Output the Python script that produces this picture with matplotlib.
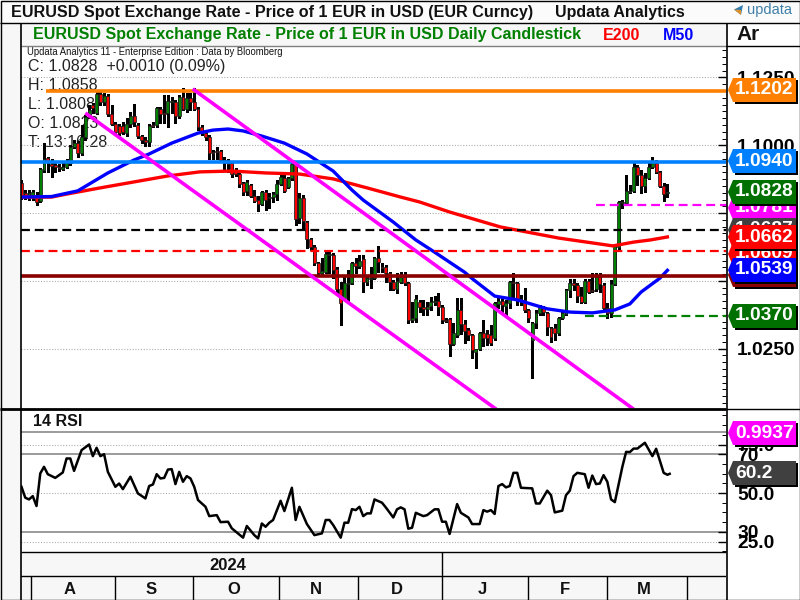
import matplotlib
matplotlib.use("Agg")
import matplotlib.pyplot as plt
from matplotlib.patches import Polygon, Rectangle
from matplotlib.ticker import MultipleLocator, FixedLocator, FixedFormatter

plt.rcParams['font.family'] = ['Liberation Sans', 'DejaVu Sans']

opens = [1.0861,1.0824,1.0809,1.0809,1.0813,1.0794,1.0909,1.0953,1.0931,1.0927,1.0920,1.0913,1.0920,1.0935,1.0994,1.1008,1.0972,1.1031,1.1104,1.1149,
1.1119,1.1189,1.1160,1.1182,1.1115,1.1079,1.1071,1.1071,1.1045,1.1079,1.1108,1.1075,1.1034,1.1020,1.1012,1.1075,1.1075,1.1134,1.1119,1.1119,
1.1160,1.1160,1.1108,1.1178,1.1134,1.1174,1.1160,1.1134,1.1067,1.1045,1.1031,1.0975,1.0979,1.0979,1.0946,1.0935,1.0935,1.0905,1.0894,1.0861,
1.0832,1.0854,1.0813,1.0798,1.0783,1.0828,1.0806,1.0809,1.0821,1.0857,1.0879,1.0846,1.0879,1.0931,1.0732,1.0806,1.0717,1.0654,1.0625,1.0566,
1.0529,1.0532,1.0595,1.0595,1.0544,1.0470,1.0437,1.0488,1.0492,1.0566,1.0555,1.0580,1.0496,1.0507,1.0510,1.0584,1.0551,1.0551,1.0529,1.0496,
1.0470,1.0496,1.0514,1.0492,1.0356,1.0363,1.0422,1.0404,1.0396,1.0407,1.0422,1.0426,1.0404,1.0356,1.0359,1.0267,1.0300,1.0393,1.0341,1.0319,
1.0300,1.0238,1.0249,1.0307,1.0304,1.0300,1.0289,1.0415,1.0426,1.0407,1.0418,1.0496,1.0492,1.0433,1.0430,1.0393,1.0282,1.0344,1.0382,1.0404,
1.0382,1.0326,1.0326,1.0307,1.0363,1.0378,1.0467,1.0492,1.0485,1.0444,1.0422,1.0499,1.0467,1.0470,1.0514,1.0485,1.0400,1.0382,1.0488,1.0625,
1.0787,1.0787,1.0828,1.0832,1.0920,1.0891,1.0850,1.0879,1.0920,1.0935,1.0902,1.0850,1.0823]
highs = [1.0872,1.0835,1.0835,1.0835,1.0828,1.0916,1.1008,1.0957,1.0950,1.0938,1.0931,1.0935,1.0950,1.1001,1.1020,1.1016,1.1075,1.1112,1.1149,1.1156,
1.1197,1.1197,1.1193,1.1189,1.1149,1.1086,1.1079,1.1086,1.1101,1.1123,1.1152,1.1082,1.1038,1.1031,1.1079,1.1086,1.1141,1.1141,1.1185,1.1185,
1.1178,1.1167,1.1185,1.1211,1.1193,1.1193,1.1211,1.1141,1.1075,1.1056,1.1038,1.0983,1.0994,1.0983,1.0957,1.0950,1.0938,1.0916,1.0902,1.0865,
1.0872,1.0857,1.0835,1.0813,1.0832,1.0835,1.0824,1.0828,1.0872,1.0898,1.0898,1.0883,1.0935,1.0938,1.0824,1.0817,1.0721,1.0658,1.0632,1.0569,
1.0584,1.0606,1.0606,1.0603,1.0551,1.0496,1.0522,1.0540,1.0569,1.0584,1.0595,1.0595,1.0522,1.0551,1.0588,1.0629,1.0566,1.0558,1.0532,1.0503,
1.0529,1.0532,1.0532,1.0496,1.0422,1.0448,1.0430,1.0430,1.0422,1.0441,1.0444,1.0456,1.0411,1.0363,1.0363,1.0345,1.0437,1.0437,1.0356,1.0326,
1.0304,1.0249,1.0311,1.0356,1.0319,1.0338,1.0422,1.0437,1.0437,1.0430,1.0499,1.0529,1.0496,1.0448,1.0474,1.0396,1.0349,1.0393,1.0411,1.0407,
1.0385,1.0330,1.0341,1.0367,1.0393,1.0470,1.0507,1.0507,1.0492,1.0478,1.0507,1.0507,1.0529,1.0529,1.0529,1.0492,1.0418,1.0503,1.0632,1.0794,
1.0798,1.0891,1.0854,1.0935,1.0927,1.0909,1.0898,1.0935,1.0957,1.0946,1.0905,1.0861,1.0858]
lows = [1.0802,1.0802,1.0798,1.0798,1.0780,1.0791,1.0902,1.0902,1.0883,1.0902,1.0905,1.0909,1.0916,1.0927,1.0990,1.0957,1.0964,1.1020,1.1101,1.1119,
1.1115,1.1149,1.1149,1.1108,1.1075,1.1042,1.1038,1.1042,1.1034,1.1067,1.1071,1.1027,1.1008,1.0997,1.0997,1.1067,1.1067,1.1082,1.1082,1.1067,
1.1119,1.1082,1.1101,1.1130,1.1123,1.1130,1.1130,1.1056,1.1038,1.1020,1.0950,1.0950,1.0950,1.0938,1.0905,1.0902,1.0883,1.0887,1.0846,1.0817,
1.0817,1.0809,1.0791,1.0758,1.0780,1.0761,1.0769,1.0791,1.0798,1.0854,1.0828,1.0843,1.0872,1.0706,1.0713,1.0688,1.0621,1.0614,1.0558,1.0522,
1.0522,1.0529,1.0529,1.0510,1.0456,1.0338,1.0430,1.0418,1.0488,1.0529,1.0547,1.0459,1.0485,1.0474,1.0507,1.0532,1.0532,1.0496,1.0467,1.0467,
1.0456,1.0492,1.0485,1.0345,1.0349,1.0349,1.0385,1.0374,1.0374,1.0393,1.0411,1.0374,1.0345,1.0349,1.0223,1.0264,1.0293,1.0304,1.0271,1.0282,
1.0216,1.0179,1.0245,1.0260,1.0264,1.0264,1.0282,1.0400,1.0385,1.0374,1.0400,1.0433,1.0411,1.0411,1.0385,1.0349,1.0142,1.0326,1.0374,1.0374,
1.0300,1.0275,1.0282,1.0300,1.0359,1.0374,1.0441,1.0467,1.0422,1.0418,1.0418,1.0456,1.0459,1.0463,1.0459,1.0396,1.0363,1.0367,1.0485,1.0614,
1.0769,1.0780,1.0824,1.0828,1.0854,1.0824,1.0828,1.0876,1.0916,1.0898,1.0846,1.0794,1.0808]
closes = [1.0809,1.0809,1.0824,1.0828,1.0791,1.0913,1.0950,1.0938,1.0924,1.0920,1.0916,1.0920,1.0935,1.0994,1.1008,1.0972,1.1031,1.1104,1.1130,1.1138,
1.1189,1.1160,1.1182,1.1115,1.1079,1.1049,1.1045,1.1049,1.1079,1.1108,1.1086,1.1034,1.1020,1.1012,1.1071,1.1071,1.1138,1.1115,1.1115,1.1163,
1.1163,1.1108,1.1178,1.1134,1.1174,1.1160,1.1134,1.1067,1.1045,1.1031,1.0972,1.0972,1.0975,1.0946,1.0935,1.0931,1.0894,1.0894,1.0857,1.0828,
1.0865,1.0813,1.0794,1.0783,1.0828,1.0798,1.0809,1.0821,1.0857,1.0883,1.0832,1.0879,1.0931,1.0728,1.0806,1.0721,1.0655,1.0625,1.0566,1.0529,
1.0536,1.0599,1.0599,1.0540,1.0470,1.0418,1.0492,1.0492,1.0566,1.0555,1.0573,1.0496,1.0510,1.0510,1.0584,1.0569,1.0547,1.0529,1.0496,1.0470,
1.0499,1.0514,1.0492,1.0356,1.0363,1.0433,1.0404,1.0396,1.0404,1.0422,1.0426,1.0404,1.0356,1.0352,1.0267,1.0308,1.0393,1.0341,1.0315,1.0300,
1.0245,1.0249,1.0307,1.0289,1.0289,1.0271,1.0418,1.0426,1.0411,1.0418,1.0496,1.0492,1.0433,1.0430,1.0393,1.0363,1.0344,1.0382,1.0404,1.0385,
1.0330,1.0293,1.0307,1.0363,1.0382,1.0467,1.0492,1.0485,1.0444,1.0422,1.0499,1.0459,1.0463,1.0514,1.0488,1.0400,1.0382,1.0488,1.0629,1.0791,
1.0791,1.0832,1.0832,1.0920,1.0891,1.0850,1.0879,1.0920,1.0935,1.0902,1.0850,1.0821,1.0828]

m50_x = [0,8,15,23,30,34,40,47,51,55,59,64,70,76,83,88,91,99,105,110,118,120.5,126,132,140,146,152,158,162,165,170,172]
m50_y = [1.0809,1.0811,1.0832,1.0898,1.0946,1.0968,1.1008,1.1045,1.1056,1.1060,1.1053,1.1034,1.1008,1.0968,1.0905,1.0835,1.0798,1.0717,1.0651,1.0606,1.0532,1.0503,1.0444,1.0430,1.0397,1.0385,1.0382,1.0393,1.0415,1.0459,1.0510,1.0539]
e200_x = [0,8,12,21,30,39,47.5,56,65,74,83,92,101,106,114,127.5,143,157.5,163,167.5,172]
e200_y = [1.0809,1.0809,1.0820,1.0843,1.0865,1.0887,1.0902,1.0905,1.0898,1.0894,1.0876,1.0843,1.0809,1.0791,1.0754,1.0699,1.0658,1.0629,1.0643,1.0651,1.0662]

trend1_x, trend1_y = [17.4, 126.0], [1.1115, 1.0031]
trend2_x, trend2_y = [46.0, 162.6], [1.1204, 1.0031]

solid_levels = [1.1202, 1.0940, 1.0519]
solid_colors = ['#ff8000', '#0080ff', '#8b0000']
solid_starts = [6.6, 0, 0]
dash_levels = [1.0781, 1.0687, 1.0609, 1.0370]
dash_colors = ['#ff00ff', '#000000', '#ff0000', '#008000']
dash_starts = [153, 0, 0, 150]

rsi_x = [0,1,2,3,4,5,6,7,9,11,12,13,14,16,18,19,20,21,22,23,25,26,27,29,31,33,34,35,36,37,38,39,40,41,42,43,44,45,46,47,49,50,52,53,55,56,59,60,62,63,64,65,66,67,69,70,72,73,74,76,78,80,81,82,83,85,86,87,88,89,90,91,92,93,94,96,97,99,100,101,
102,103,104,105,107,108,110,111,112,113,114,116,117,119,120,122,123,124,125,126,127,128,129,130,131,132,133,136,137,138,140,141,142,144,145,146,147,148,150,151,152,153,154,155,156,157,158,160,161,162,163,164,166,168,169,171,172,172.6]
rsi_y = [53.2,47.6,46.7,48.4,43.3,60.1,63.5,59.7,57.8,60.6,67.8,67.8,61.4,72.1,75.0,69.0,73.3,69.0,70.0,60.9,53.2,54.9,52.0,58.4,49.8,47.2,53.6,54.4,59.7,57.5,57.8,62.1,62.3,54.6,60.9,55.8,58.7,57.5,53.2,46.4,42.9,38.1,38.6,35.0,35.2,31.8,27.0,33.0,28.3,26.6,34.3,32.6,34.7,36.1,46.0,40.7,52.7,36.1,42.9,34.0,28.3,29.2,36.1,36.1,33.5,27.0,34.7,34.7,41.7,41.2,42.9,38.1,39.5,39.5,46.7,45.0,42.6,37.4,41.6,42.6,
41.6,31.6,32.1,39.8,38.1,38.6,41.6,41.6,35.2,35.2,28.9,44.3,39.8,37.4,34.0,34.0,41.2,40.4,41.2,39.2,53.6,54.6,52.9,53.6,60.4,60.4,52.7,52.4,44.6,44.6,51.2,48.9,40.0,40.9,48.9,51.2,58.7,60.4,59.7,52.7,59.0,54.6,54.9,59.2,55.8,46.7,45.3,63.5,71.2,71.1,72.9,72.9,75.9,69.0,72.8,60.4,59.4,59.9]

rsi_lines = [81.3, 70, 30]
rsi_dots = [75, 50, 25]
rsi_ticks = [25, 30, 50, 70, 75]
rsi_ticklabels = ['25.0', '30', '50.0', '70', '75.0']

price_ticks = [1.025, 1.05, 1.075, 1.10, 1.125]

month_edges = [2.5, 24.8, 45.8, 68.7, 89.7, 111.9, 135.0, 156.0, 177.1]
month_labels = ['A', 'S', 'O', 'N', 'D', 'J', 'F', 'M']
year_label = '2024'

tag_labels = ['1.0781', '1.0687', '1.0609', '1.0519', '1.1202', '1.0940', '1.0828', '1.0662', '1.0539', '1.0370', '0.9937', '60.2']
tag_colors = ['#ff00ff', '#404040', '#ff0000', '#8b0000', '#ff8000', '#0080ff', '#007000', '#ff0000', '#0000ff', '#007000', '#ff00ff', '#404040']
tag_centers = [208, 230, 254, 275, 90, 161, 192, 237, 270, 316, 433, 473]

PANEL = '#f7f7f7'
W, H = 800, 600
fig = plt.figure(figsize=(8, 6), dpi=100, facecolor='white')

def rect(l, t, r, b):
    return [l / W, 1 - b / H, (r - l) / W, (b - t) / H]

bg = fig.add_axes([0, 0, 1, 1], zorder=0)
bg.set_xlim(0, W); bg.set_ylim(H, 0); bg.axis('off')
bg.add_patch(Rectangle((0, 0), W, 23, fc='#fbfbfb', ec='none'))
bg.add_patch(Rectangle((0, 23), 726, 23, fc=PANEL, ec='none'))
bg.add_patch(Rectangle((0, 23), 20, 577, fc=PANEL, ec='none'))
bg.text(27, 52, 'Updata Analytics 11 - Enterprise Edition : Data by Bloomberg', fontsize=6.85, va='center', color='#111111')
info = ['C: 1.0828  +0.0010 (0.09%)', 'H: 1.0858', 'L: 1.0808', 'O: 1.0823', 'T: 13:16:28']
for k, s in enumerate(info):
    bg.text(28, 66.5 + 19 * k, s, fontsize=11.5, va='center', color='#222222')

xl = (-0.13, 187.6)
ax = fig.add_axes(rect(21, 46, 726, 408), zorder=1, facecolor='none')
ax.set_xlim(*xl); ax.set_ylim(1.00313, 1.13661)
for s in ax.spines.values():
    s.set_visible(False)
ax.yaxis.tick_right()
ax.set_yticks(price_ticks)
ax.yaxis.set_major_formatter(FixedFormatter(['1.0250', '1.0500', '1.0750', '1.1000', '1.1250']))
ax.yaxis.set_minor_locator(MultipleLocator(0.0025))
ax.tick_params(axis='y', which='major', direction='in', length=6, width=1.0, pad=8, labelsize=13.8)
ax.tick_params(axis='y', which='minor', direction='in', length=3, width=0.7)
ax.tick_params(axis='x', bottom=False, labelbottom=False)
for t in ax.get_yticklabels():
    t.set_fontweight('bold')
ax.grid(axis='y', which='major', color='#b0b0b0', ls=(0, (1, 1.5)), lw=0.8, zorder=0.5)
ax.set_axisbelow(True)

xs = list(range(len(opens)))
ax.vlines(xs, lows, highs, color='black', lw=0.75, zorder=2, antialiased=False)
for i in xs:
    o, c = opens[i], closes[i]
    col = '#007f00' if c >= o else '#ff0000'
    ax.bar(i, abs(c - o), bottom=min(o, c), width=0.78, color=col, edgecolor='#202020', lw=0.55, zorder=3)

ax.plot(e200_x, e200_y, color='#ff0000', lw=2.4, zorder=4)
ax.plot(m50_x, m50_y, color='#0000ff', lw=2.4, zorder=4)
for lv, col, st in zip(dash_levels, dash_colors, dash_starts):
    ax.plot([st, xl[1]], [lv, lv], color=col, lw=1.6, ls=(0, (4, 2.2)), zorder=5)
for lv, col, st in zip(solid_levels, solid_colors, solid_starts):
    ax.plot([st, xl[1]], [lv, lv], color=col, lw=2.6, zorder=5, solid_capstyle='butt')
ax.plot(trend1_x, trend1_y, color='#ff00ff', lw=2.6, zorder=6)
ax.plot(trend2_x, trend2_y, color='#ff00ff', lw=2.6, zorder=6)

rs = fig.add_axes(rect(21, 409, 726, 552), zorder=1, facecolor='none')
rs.set_xlim(*xl); rs.set_ylim(19.6, 93.3)
for s in rs.spines.values():
    s.set_visible(False)
rs.yaxis.tick_right()
rs.yaxis.set_major_locator(FixedLocator(rsi_ticks))
rs.yaxis.set_major_formatter(FixedFormatter(rsi_ticklabels))
rs.yaxis.set_minor_locator(MultipleLocator(5))
rs.tick_params(axis='y', which='major', direction='in', length=6, width=1.0, pad=8, labelsize=13.8)
rs.tick_params(axis='y', which='minor', direction='in', length=3, width=0.7)
rs.tick_params(axis='x', bottom=False, labelbottom=False)
for t in rs.get_yticklabels():
    t.set_fontweight('bold')
for lv in rsi_lines:
    rs.axhline(lv, color='#808080', lw=1.1, zorder=1)
for lv in rsi_dots:
    rs.axhline(lv, color='#b0b0b0', ls=(0, (1, 1.5)), lw=0.8, zorder=1)
rs.plot(rsi_x, rsi_y, color='#000000', lw=1.8, zorder=3)
rs.text(0.017, 0.916, '14 RSI', transform=rs.transAxes, fontsize=11.5, fontweight='bold', va='center', color='#111111')

bt = fig.add_axes(rect(21, 552, 726, 600), zorder=1, facecolor=PANEL)
bt.set_xlim(*xl); bt.set_ylim(2, 0)
bt.set_xticks([]); bt.set_yticks([])
for s in bt.spines.values():
    s.set_visible(False)
bt.axhline(1, color='black', lw=1.0)
bt.vlines(month_edges, 1, 2, color='black', lw=1.0)
bt.vlines([month_edges[5]], 0, 1, color='black', lw=1.0)
for k, lab in enumerate(month_labels):
    bt.text((month_edges[k] + month_edges[k + 1]) / 2 - 0.8, 1.56, lab, fontsize=12, fontweight='bold',
            ha='center', va='center', color='#111111')
bt.text(55, 0.56, year_label, fontsize=12, fontweight='bold', ha='center', va='center', color='#111111')

ov = fig.add_axes([0, 0, 1, 1], zorder=3, facecolor='none')
ov.set_xlim(0, W); ov.set_ylim(H, 0); ov.axis('off')

def vline(x, y0, y1, lw=1.0, c='black'):
    ov.plot([x, x], [y0, y1], color=c, lw=lw, solid_capstyle='butt')
def hline(y, x0, x1, lw=1.0, c='black'):
    ov.plot([x0, x1], [y, y], color=c, lw=lw, solid_capstyle='butt')

hline(23.3, 0, W, 1.0)
hline(46, 21, 726, 1.0, '#808080')
hline(46, 726, W, 1.0)
hline(408.7, 0, 726, 2.0)
hline(408.7, 726, W, 1.0)
hline(552.3, 21, 726, 1.0)
vline(20.5, 23, H, 1.2)
vline(726.5, 23, H, 1.2)
ov.add_patch(Rectangle((0.5, 0.5), W - 1, H - 1, fc='none', ec='black', lw=1.0, zorder=20))

ov.text(11, 12.5, 'EURUSD Spot Exchange Rate - Price of 1 EUR in USD (EUR Curncy)', fontsize=11.6,
        fontweight='bold', va='center', color='#111111')
ov.text(555, 12.5, 'Updata Analytics', fontsize=11.5, fontweight='bold', va='center', color='#111111')
ov.text(33, 35, 'EURUSD Spot Exchange Rate - Price of 1 EUR in USD Daily Candlestick', fontsize=11.5,
        fontweight='bold', va='center', color='#008000')
ov.text(603, 35, 'E200', fontsize=11.5, fontweight='bold', va='center', color='#ff0000')
ov.text(663, 35, 'M50', fontsize=11.5, fontweight='bold', va='center', color='#0000ff')
ov.text(736, 35, 'Ar', fontsize=15, fontweight='bold', va='center', color='#111111')

ov.add_patch(Polygon([[734, 9.5], [743, 5], [741, 15]], fc='#2f7fb0', ec='none'))
ov.add_patch(Polygon([[734, 9.5], [741, 10], [741, 15]], fc='#e0902a', ec='none'))
ov.text(747, 10, 'updata', fontsize=10.5, va='center', color='#3f7fa8')

for k, (lab, col, yc) in enumerate(zip(tag_labels, tag_colors, tag_centers)):
    x0, x1, x2, t, b = 728, 733, 796, yc - 12, yc + 12
    ov.add_patch(Polygon([[x1 + 2, t + 2], [x2 + 2, t + 2], [x2 + 2, b + 2], [x1 + 2, b + 2]], fc='black', ec='none', zorder=5 + k))
    ov.add_patch(Polygon([[x0, yc], [x1, t], [x2, t], [x2, b], [x1, b]], fc=col, ec='none', zorder=5 + k))
    ov.text(735, yc, lab, fontsize=13.8, fontweight='bold', color='white', va='center', ha='left', zorder=5 + k)

fig.savefig('out.png', dpi=100, facecolor='white')
